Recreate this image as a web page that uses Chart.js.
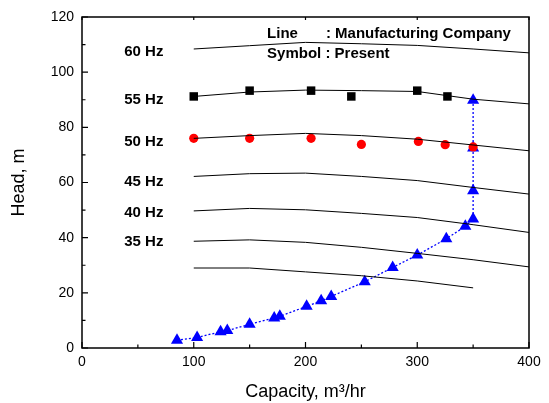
<!DOCTYPE html>
<html>
<head>
<meta charset="utf-8">
<script src="https://cdn.jsdelivr.net/npm/chart.js@4.4.0/dist/chart.umd.min.js"></script>
<style>
  body { margin: 0; background: #fff; }
  canvas { display: block; }
</style>
</head>
<body>
<canvas id="chart" width="549" height="403"></canvas>
<script>
// manufacturer curves, head (m) at capacity (m3/hr)
const capacityGrid = [100, 150, 200, 250, 300, 350, 400];
const head60 = [108.4, 109.6, 110.8, 110.3, 109.7, 108.4, 107.0];
const head55 = [91.2, 92.8, 93.5, 93.3, 93.0, 90.2, 88.5];
const head50 = [76.0, 77.0, 77.8, 77.0, 75.7, 73.6, 71.5];
const head45 = [62.2, 63.2, 63.4, 62.2, 60.7, 58.2, 55.8];
const head40 = [49.7, 50.6, 50.1, 48.8, 47.3, 44.7, 41.9];
const head35 = [38.7, 39.2, 38.3, 36.5, 34.3, 32.0, 29.4];
const head30 = [29.0, 29.0, 27.6, 26.2, 24.3, 21.8];

// present measurements
const squareX = [100, 150, 205, 241, 300, 327];
const squareY = [91.2, 93.3, 93.3, 91.2, 93.3, 91.2];
const circleX = [100, 150, 205, 250, 301, 325, 350];
const circleY = [76.0, 76.0, 76.0, 73.8, 74.9, 73.7, 72.9];
const triX = [85, 103, 124, 130, 150, 172, 177, 201, 214, 223, 253, 278, 300, 326, 343, 350, 350, 350, 350];
const triY = [2.8, 3.8, 5.9, 6.3, 8.6, 10.9, 11.5, 15.1, 17.1, 18.7, 24.0, 29.2, 33.7, 39.6, 44.1, 46.8, 57.0, 72.5, 89.8];

// frequency labels
const hzLabels = ['60 Hz', '55 Hz', '50 Hz', '45 Hz', '40 Hz', '35 Hz'];
const hzLabelY = [107.2, 89.8, 74.9, 60.3, 49.1, 38.5];
const hzLabelX = 37.8;

const xTicks = [0, 100, 200, 300, 400];
const yTicks = [0, 20, 40, 60, 80, 100, 120];

const pts = (xs, ys) => xs.map((x, i) => ({ x: x, y: ys[i] }));

const curve = (ys) => ({
  data: pts(capacityGrid, ys),
  showLine: true,
  borderColor: '#000',
  borderWidth: 1,
  pointRadius: 0,
  tension: 0
});

const FONT = 'Liberation Sans, Arial, sans-serif';

const frame = {
  id: 'frame',
  afterDatasetsDraw(chart) {
    const { ctx, chartArea: a, scales: { x, y } } = chart;
    ctx.save();
    ctx.strokeStyle = '#000';
    ctx.lineWidth = 1.5;
    ctx.strokeRect(a.left, a.top, a.right - a.left, a.bottom - a.top);
    ctx.lineWidth = 1.2;
    ctx.beginPath();
    for (let v = 0; v <= 400; v += 50) {
      const px = x.getPixelForValue(v);
      const len = v % 100 === 0 ? 6 : 3.5;
      ctx.moveTo(px, a.bottom);
      ctx.lineTo(px, a.bottom - len);
      if (v % 100 === 0) {
        ctx.moveTo(px, a.top);
        ctx.lineTo(px, a.top + 3);
      }
    }
    for (let v = 0; v <= 120; v += 10) {
      const py = y.getPixelForValue(v);
      const len = v % 20 === 0 ? 6 : 3.5;
      ctx.moveTo(a.left, py);
      ctx.lineTo(a.left + len, py);
    }
    ctx.stroke();

    ctx.fillStyle = '#000';
    ctx.font = 'bold 15px ' + FONT;
    ctx.textBaseline = 'middle';
    ctx.textAlign = 'left';
    hzLabels.forEach((t, i) => {
      ctx.fillText(t, x.getPixelForValue(hzLabelX), y.getPixelForValue(hzLabelY[i]));
    });
    ctx.fillText('Line', x.getPixelForValue(165.6), y.getPixelForValue(114.0));
    ctx.fillText(': Manufacturing Company', x.getPixelForValue(218.3), y.getPixelForValue(114.0));
    ctx.fillText('Symbol : Present', x.getPixelForValue(165.6), y.getPixelForValue(106.7));
    ctx.restore();
  }
};

new Chart(document.getElementById('chart'), {
  type: 'scatter',
  data: {
    datasets: [
      curve(head60), curve(head55), curve(head50), curve(head45),
      curve(head40), curve(head35), curve(head30),
      {
        data: pts(squareX, squareY),
        pointStyle: 'rect',
        pointRadius: 6,
        backgroundColor: '#000',
        borderColor: '#000',
        borderWidth: 0
      },
      {
        data: pts(circleX, circleY),
        pointStyle: 'circle',
        pointRadius: 4.6,
        backgroundColor: '#ff0000',
        borderColor: '#ff0000',
        borderWidth: 0
      },
      {
        data: pts(triX, triY),
        showLine: true,
        borderColor: '#0000ff',
        borderWidth: 1.3,
        borderDash: [2, 2],
        pointStyle: 'triangle',
        pointRadius: 7,
        pointBackgroundColor: '#0000ff',
        pointBorderColor: '#0000ff',
        pointBorderWidth: 0,
        tension: 0
      }
    ]
  },
  options: {
    responsive: false,
    devicePixelRatio: 1,
    animation: false,
    layout: { padding: { left: 0, right: 20, top: 17, bottom: 0 } },
    plugins: { legend: { display: false }, tooltip: { enabled: false } },
    scales: {
      x: {
        type: 'linear',
        min: 0,
        max: 400,
        afterBuildTicks: (s) => { s.ticks = xTicks.map(v => ({ value: v })); },
        afterFit: (s) => { s.height = 55; },
        grid: { display: false, drawTicks: false },
        border: { display: false },
        ticks: { padding: 6, color: '#000', font: { family: FONT, size: 14 } },
        title: {
          display: true,
          text: 'Capacity, m³/hr',
          color: '#000',
          font: { family: FONT, size: 18 },
          padding: { top: 0, bottom: 0.2 }
        }
      },
      y: {
        type: 'linear',
        min: 0,
        max: 120,
        afterBuildTicks: (s) => { s.ticks = yTicks.map(v => ({ value: v })); },
        afterFit: (s) => { s.width = 82; },
        grid: { display: false, drawTicks: false },
        border: { display: false },
        ticks: { padding: 8, color: '#000', font: { family: FONT, size: 14 } },
        title: {
          display: true,
          text: 'Head, m',
          color: '#000',
          font: { family: FONT, size: 18 },
          padding: { top: 8.2, bottom: 0 }
        }
      }
    }
  },
  plugins: [frame]
});
</script>
</body>
</html>
